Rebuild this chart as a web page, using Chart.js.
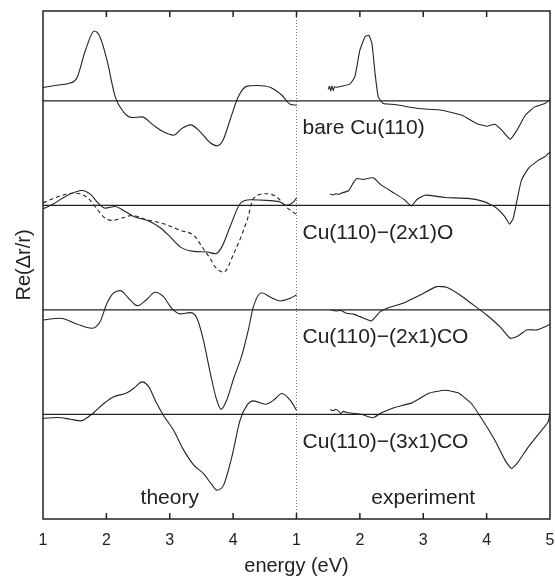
<!DOCTYPE html>
<html>
<head>
<meta charset="utf-8">
<script src="https://cdn.jsdelivr.net/npm/chart.js@4.4.1/dist/chart.umd.min.js"></script>
<style>
  html, body { margin: 0; background: #fff; }
</style>
</head>
<body>
<canvas id="grafico" width="555" height="578"></canvas>
<script>
// espectros RAS, Re(dr/r): [energia eV, valor] relativo a su linea base
const teoBare = [[1.0,1.28],[1.22,1.50],[1.40,1.66],[1.53,2.14],[1.67,4.85],[1.81,6.69],[1.90,6.12],[2.01,3.89],[2.14,0.38],[2.27,-1.05],[2.40,-1.59],[2.56,-1.53],[2.74,-2.32],[2.90,-2.96],[3.06,-3.28],[3.19,-2.64],[3.33,-2.29],[3.48,-2.96],[3.64,-4.01],[3.74,-4.30],[3.84,-3.76],[3.95,-1.85],[4.08,0.38],[4.22,1.41],[4.38,1.47],[4.59,1.28],[4.77,0.54],[4.90,-0.32],[5.0,-0.41]];
const teoO = [[1.0,-0.32],[1.17,0.16],[1.38,0.96],[1.62,1.43],[1.75,1.05],[1.88,0.16],[1.98,-0.26],[2.14,-0.10],[2.27,-0.48],[2.43,-1.05],[2.64,-1.43],[2.85,-2.13],[3.01,-3.03],[3.17,-3.99],[3.38,-4.40],[3.59,-4.46],[3.72,-4.62],[3.82,-3.99],[3.95,-2.07],[4.11,0.16],[4.27,0.54],[4.53,0.48],[4.74,0.32],[4.84,0],[4.95,0.32],[5.0,0.70]];
const teoOdash = [[1.0,0.26],[1.22,0.80],[1.48,1.18],[1.69,0.80],[1.85,-0.32],[1.96,-1.12],[2.09,-1.43],[2.25,-1.21],[2.40,-0.96],[2.64,-1.37],[2.90,-1.75],[3.17,-2.39],[3.38,-2.87],[3.53,-4.14],[3.64,-5.10],[3.72,-5.90],[3.85,-6.38],[4.01,-4.62],[4.22,-1.43],[4.32,0.64],[4.53,1.12],[4.69,0.80],[4.84,-0.16],[5.0,-0.86]];
const teo2CO = [[1.0,-0.96],[1.27,-0.80],[1.53,-1.34],[1.77,-1.75],[1.90,-1.12],[2.01,0.64],[2.11,1.60],[2.22,1.85],[2.35,1.12],[2.49,0.41],[2.64,1.02],[2.77,1.69],[2.90,1.27],[3.03,0.16],[3.17,-0.38],[3.32,-0.26],[3.43,-0.80],[3.53,-2.87],[3.64,-6.05],[3.74,-8.60],[3.81,-9.50],[3.90,-8.60],[4.01,-6.53],[4.14,-4.30],[4.24,-1.91],[4.32,0.32],[4.45,1.65],[4.59,1.21],[4.74,0.86],[4.90,1.12],[5.0,1.43]];
const teo3CO = [[1.0,-0.38],[1.22,-0.29],[1.43,-0.45],[1.59,-0.61],[1.75,-0.07],[1.96,1.05],[2.11,1.68],[2.32,2.06],[2.46,2.64],[2.56,3.12],[2.67,2.64],[2.77,1.37],[2.90,-0.07],[3.06,-1.50],[3.22,-3.41],[3.38,-4.85],[3.53,-5.64],[3.67,-6.76],[3.74,-7.24],[3.85,-6.76],[3.98,-4.05],[4.11,-0.54],[4.22,0.89],[4.32,1.30],[4.51,0.98],[4.64,1.37],[4.77,2.01],[4.90,1.37],[5.0,0.41]];

const expBare = [[1.50,1.10],[1.52,1.40],[1.54,0.95],[1.56,1.45],[1.58,1.00],[1.60,1.35],[1.63,1.30],[1.71,1.40],[1.84,1.60],[1.92,2.29],[2.00,4.85],[2.08,6.12],[2.14,6.28],[2.19,5.49],[2.24,2.62],[2.29,0.38],[2.37,-0.25],[2.55,-0.34],[2.92,-0.73],[3.29,-0.89],[3.61,-1.37],[3.84,-2.16],[4.00,-2.42],[4.13,-2.23],[4.24,-2.80],[4.37,-3.66],[4.48,-2.80],[4.61,-1.37],[4.76,-0.57],[4.92,-0.25],[5.0,0.13]];
const expO = [[1.53,1.08],[1.58,1.00],[1.62,1.12],[1.66,1.05],[1.72,1.20],[1.82,1.40],[1.89,2.10],[1.95,2.58],[2.05,2.49],[2.21,2.64],[2.34,1.94],[2.55,1.15],[2.71,0.51],[2.81,-0.07],[2.90,0.57],[3.03,0.98],[3.34,0.76],[3.71,0.67],[3.97,0.34],[4.13,-0.13],[4.29,-1.09],[4.36,-1.79],[4.42,-1.24],[4.48,0.51],[4.55,2.42],[4.66,3.54],[4.82,4.33],[4.92,4.65],[5.0,5.12]];
const exp2CO = [[1.55,0],[1.62,-0.10],[1.70,-0.05],[1.79,-0.32],[1.90,-0.40],[2.00,-0.64],[2.18,-1.05],[2.32,-0.16],[2.47,0.26],[2.68,0.64],[2.95,1.43],[3.21,2.23],[3.37,2.17],[3.58,1.43],[3.79,0.48],[4.00,-0.48],[4.21,-1.60],[4.37,-2.71],[4.48,-2.55],[4.63,-1.91],[4.79,-1.91],[4.95,-1.53],[5.0,-1.34]];
const exp3CO = [[1.53,0.48],[1.58,0.35],[1.62,0.50],[1.66,0.35],[1.70,0.10],[1.74,0.30],[1.82,0.16],[2.03,0],[2.21,-0.32],[2.34,0.16],[2.55,0.67],[2.82,1.11],[3.08,2.01],[3.34,2.32],[3.55,2.07],[3.76,1.05],[3.92,-0.38],[4.13,-2.46],[4.29,-4.37],[4.39,-5.16],[4.48,-4.68],[4.66,-3.10],[4.87,-1.50],[4.97,-0.71],[5.0,0.10]];

const lineasBase = [40, 30, 20, 10];
const muestras = ["bare Cu(110)", "Cu(110)\u2212(2x1)O", "Cu(110)\u2212(2x1)CO", "Cu(110)\u2212(3x1)CO"];
const etiquetasX = ["1", "2", "3", "4", "1", "2", "3", "4", "5"];

const NEGRO = "#222";
const fuente = "'Liberation Sans', Arial, sans-serif";

// teoria ocupa 0..4 del eje, experimento 4..8
function serie(puntos, base, desde, extra) {
  return Object.assign({
    data: puntos.map(p => ({ x: p[0] - 1 + desde, y: p[1] + base })),
    borderColor: NEGRO,
    borderWidth: 1.1,
    pointRadius: 0,
    fill: false
  }, extra);
}

const suave = { cubicInterpolationMode: "monotone" };
const ruido = { tension: 0.15 };

const datasets = [
  serie(teoBare, lineasBase[0], 0, suave),
  serie(teoO, lineasBase[1], 0, suave),
  serie(teoOdash, lineasBase[1], 0, Object.assign({ borderDash: [4, 3] }, suave)),
  serie(teo2CO, lineasBase[2], 0, suave),
  serie(teo3CO, lineasBase[3], 0, suave),
  serie(expBare, lineasBase[0], 4, ruido),
  serie(expO, lineasBase[1], 4, ruido),
  serie(exp2CO, lineasBase[2], 4, ruido),
  serie(exp3CO, lineasBase[3], 4, ruido)
];

lineasBase.forEach(b => {
  datasets.push({
    data: [{ x: 0, y: b }, { x: 8, y: b }],
    borderColor: NEGRO,
    borderWidth: 1.3,
    pointRadius: 0
  });
});

const marco = {
  id: "marco",
  beforeDatasetsDraw(chart) {
    const { ctx, chartArea: a, scales: { x } } = chart;
    const xm = x.getPixelForValue(4);
    ctx.save();
    ctx.strokeStyle = "#777";
    ctx.lineWidth = 1;
    ctx.setLineDash([1, 2]);
    ctx.beginPath();
    ctx.moveTo(xm, a.top);
    ctx.lineTo(xm, a.bottom);
    ctx.stroke();
    ctx.restore();
  },
  afterDraw(chart) {
    const { ctx, chartArea: a, scales: { x, y } } = chart;
    ctx.save();
    ctx.strokeStyle = NEGRO;
    ctx.lineWidth = 1.5;
    ctx.strokeRect(a.left, a.top, a.right - a.left, a.bottom - a.top);
    ctx.beginPath();
    for (let v = 1; v < 8; v++) {
      const px = x.getPixelForValue(v);
      ctx.moveTo(px, a.bottom);
      ctx.lineTo(px, a.bottom - 6);
      ctx.moveTo(px, a.top);
      ctx.lineTo(px, a.top + 6);
    }
    ctx.stroke();

    ctx.fillStyle = NEGRO;
    ctx.font = "21px " + fuente;
    ctx.textBaseline = "middle";
    ctx.textAlign = "left";
    muestras.forEach((m, i) => {
      ctx.fillText(m, x.getPixelForValue(4) + 6, y.getPixelForValue(lineasBase[i] - 2.65));
    });
    ctx.textAlign = "center";
    ctx.fillText("theory", x.getPixelForValue(2), y.getPixelForValue(2.0));
    ctx.fillText("experiment", x.getPixelForValue(6), y.getPixelForValue(2.0));
    ctx.restore();
  }
};

new Chart(document.getElementById("grafico"), {
  type: "line",
  data: { datasets },
  plugins: [marco],
  options: {
    responsive: false,
    animation: false,
    layout: { padding: { top: 11, right: 5, left: 0, bottom: 0 } },
    plugins: { legend: { display: false }, tooltip: { enabled: false } },
    scales: {
      x: {
        type: "linear",
        min: 0,
        max: 8,
        afterFit: s => {
          s.height = 59;
          s.paddingLeft = 0;
          s.paddingRight = 0;
        },
        grid: { display: false, drawTicks: false },
        border: { display: false },
        ticks: {
          stepSize: 1,
          padding: 12,
          color: NEGRO,
          font: { family: fuente, size: 16 },
          callback: v => etiquetasX[v]
        },
        title: {
          display: true,
          text: "energy (eV)",
          color: NEGRO,
          font: { family: fuente, size: 20 },
          padding: { top: 0, bottom: 0 }
        }
      },
      y: {
        min: 0,
        max: 48.6,
        afterFit: s => { s.width = 43; },
        grid: { display: false, drawTicks: false },
        border: { display: false },
        ticks: { display: false },
        title: {
          display: true,
          text: "Re(\u0394r/r)",
          color: NEGRO,
          font: { family: fuente, size: 20 },
          padding: { top: 12, bottom: 0 }
        }
      }
    }
  }
});
</script>
</body>
</html>
